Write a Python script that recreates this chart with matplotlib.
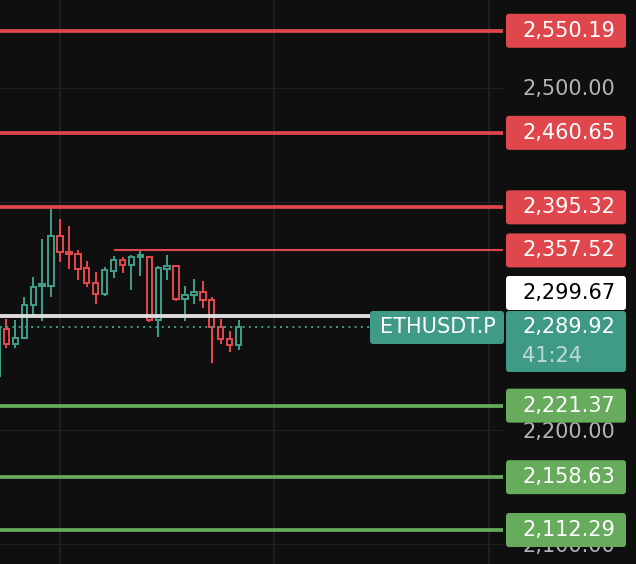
import numpy as np
import matplotlib.pyplot as plt
from matplotlib.patches import FancyBboxPatch

# ─────────────────────────────────────────────────────────────────────────────
# Data
# ─────────────────────────────────────────────────────────────────────────────
candle_idx = list(range(-1, 27))
opens  = [2247.0, 2288.3, 2275.1, 2280.4, 2309.3, 2326.6, 2326.6, 2369.9, 2356.1, 2354.4,
          2342.1, 2328.6, 2319.6, 2339.8, 2348.8, 2344.4, 2352.0, 2352.0, 2296.5, 2341.5,
          2343.9, 2314.6, 2318.1, 2320.7, 2313.7, 2290.3, 2279.5, 2274.3]
closes = [2289.0, 2275.1, 2280.4, 2309.3, 2325.1, 2328.1, 2369.9, 2355.8, 2354.1, 2341.5,
          2328.6, 2319.6, 2340.3, 2349.1, 2344.7, 2351.5, 2353.2, 2296.5, 2341.8, 2343.9,
          2314.6, 2318.1, 2320.7, 2313.7, 2290.3, 2279.5, 2274.3, 2289.92]
highs  = [2290.0, 2297.4, 2296.5, 2316.6, 2334.2, 2367.5, 2394.7, 2385.1, 2378.9, 2357.9,
          2348.2, 2338.6, 2343.0, 2352.6, 2352.0, 2353.5, 2357.9, 2352.6, 2343.9, 2353.5,
          2344.7, 2326.3, 2332.5, 2330.7, 2316.6, 2297.4, 2286.8, 2296.5]
lows   = [2240.0, 2272.2, 2272.2, 2280.1, 2300.3, 2295.9, 2316.6, 2347.7, 2341.2, 2331.6,
          2325.7, 2310.8, 2317.5, 2333.3, 2338.0, 2322.8, 2335.1, 2295.0, 2281.9, 2331.6,
          2313.4, 2295.9, 2310.5, 2307.3, 2259.1, 2275.1, 2268.7, 2270.2]

resistance_levels = [2550.19, 2460.65, 2395.32]
short_resistance  = 2357.52
short_res_start   = 12
support_levels    = [2221.37, 2158.63, 2112.29]
prev_close        = 2299.67
last_price        = 2289.92
countdown         = "41:24"
symbol            = "ETHUSDT.P"
price_grid        = [2100, 2200, 2300, 2400, 2500]
price_labels      = [2100, 2200, 2500]   # 2,300 / 2,400 sit fully under the level tags
time_grid_idx     = [6, 30, 54]

# ─────────────────────────────────────────────────────────────────────────────
# Style
# ─────────────────────────────────────────────────────────────────────────────
BG     = "#0f0f0f"
GRID   = "#1f1f1f"
RED    = "#e0474d"
TEAL   = "#3f9a86"
GREEN  = "#67ab5c"
WHITE  = "#dcdcdc"
AXTXT  = "#b4b4b4"

plt.rcParams["font.family"] = ["DejaVu Sans"]

W, H = 636, 564
AXIS_X = 503                     # where the price scale starts (px)
Y_TOP, Y_BOT = 2577.19, 2082.46  # price range of the figure height
PX = (Y_TOP - Y_BOT) / H         # one pixel in price units
STEP = 8.93                      # candle spacing in px
X0 = 6.42                        # px position of candle 0

fig = plt.figure(figsize=(W / 100, H / 100), dpi=100, facecolor=BG)
ax = fig.add_axes([0, 0, AXIS_X / W, 1])
ax.set_facecolor(BG)
ax.set_xlim(-X0 / STEP, (AXIS_X - X0) / STEP)
ax.set_ylim(Y_BOT, Y_TOP)
ax.axis("off")

for p in price_grid:
    ax.axhline(p, color=GRID, lw=0.9, zorder=0)
for t in time_grid_idx:
    ax.axvline(t, color=GRID, lw=1.4, zorder=0)

# candles (hollow)
o = np.array(opens); c = np.array(closes)
colors = [TEAL if cc >= oo else RED for oo, cc in zip(o, c)]
ax.vlines(candle_idx, lows, highs, colors=colors, lw=1.45, zorder=2)
ax.bar(candle_idx, np.maximum(np.abs(c - o), 0.4), bottom=np.minimum(o, c), width=0.6,
       facecolor=BG, edgecolor=colors, linewidth=1.45, zorder=3)

# level lines
for lv in resistance_levels:
    ax.axhline(lv, color=RED, lw=2.7, zorder=4)
ax.hlines(short_resistance, short_res_start, ax.get_xlim()[1], color=RED, lw=1.5, zorder=4)
ax.axhline(prev_close, color=WHITE, lw=2.8, zorder=4)
ax.axhline(last_price, color=TEAL, lw=1.4, ls=(0, (1, 2.2)), zorder=4)
for lv in support_levels:
    ax.axhline(lv, color=GREEN, lw=2.7, zorder=4)

# ─────────────────────────────────────────────────────────────────────────────
# Price scale
# ─────────────────────────────────────────────────────────────────────────────
pax = fig.add_axes([AXIS_X / W, 0, (W - AXIS_X) / W, 1])
pax.set_facecolor(BG)
pax.set_xlim(0, W - AXIS_X)
pax.set_ylim(Y_BOT, Y_TOP)
pax.axis("off")

TXT_X = 19
FS = 15


def price_box(y_low, height, color, zorder=5, x=3, width=120):
    box = FancyBboxPatch((x, y_low), width, height,
                         boxstyle="round,pad=0,rounding_size=3",
                         mutation_aspect=PX, facecolor=color, edgecolor="none",
                         zorder=zorder, clip_on=False)
    pax.add_patch(box)


for p in price_labels:
    pax.text(TXT_X, p - 1.5 * PX, f"{p:,.2f}", color=AXTXT, fontsize=FS, va="center",
             zorder=1)

BOX_H = 34 * PX
for lv in resistance_levels + [short_resistance]:
    price_box(lv - BOX_H / 2, BOX_H, RED)
    pax.text(TXT_X, lv, f"{lv:,.2f}", color="white", fontsize=FS, va="center", zorder=6)
for lv in support_levels:
    price_box(lv - BOX_H / 2, BOX_H, GREEN)
    pax.text(TXT_X, lv, f"{lv:,.2f}", color="white", fontsize=FS, va="center", zorder=6)

# last price box with countdown, prev close pushed above it
cur_top = last_price + 16.5 * PX
cur_bot = last_price - 44.5 * PX
price_box(cur_bot, cur_top - cur_bot, TEAL, zorder=7)
pax.text(TXT_X, last_price, f"{last_price:,.2f}", color="white", fontsize=FS,
         va="center", zorder=8)
pax.text(TXT_X, last_price - 29 * PX, countdown, color="#bddcd4", fontsize=FS,
         va="center", zorder=8)

pc_low = cur_top + 1 * PX
price_box(pc_low, BOX_H, "white", zorder=7)
pax.text(TXT_X, pc_low + BOX_H / 2, f"{prev_close:,.2f}", color="black", fontsize=FS,
         va="center", zorder=8)

# symbol tag left of the scale
price_box(last_price - 16.5 * PX, 33 * PX, TEAL, zorder=7, x=-133, width=134)
pax.text(-123, last_price, symbol, color="white", fontsize=FS, va="center", zorder=8,
         clip_on=False)

plt.savefig("out.png", dpi=100, facecolor=BG)
